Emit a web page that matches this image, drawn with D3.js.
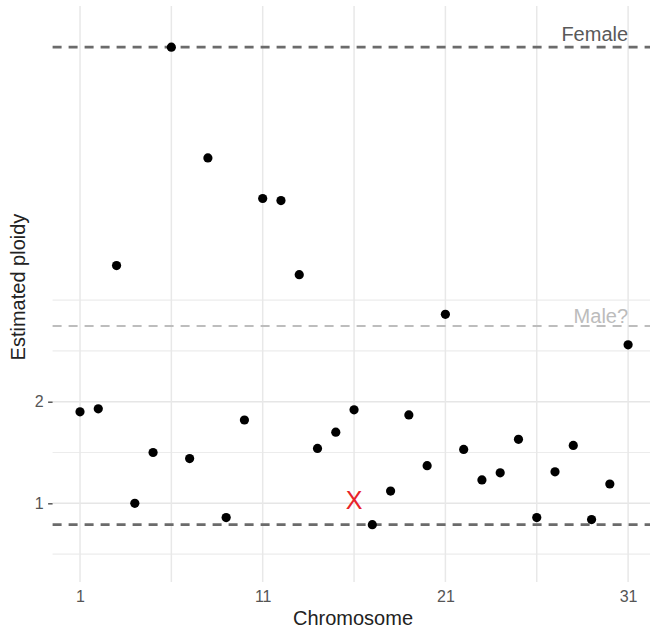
<!DOCTYPE html>
<html>
<head>
<meta charset="utf-8">
<script src="https://cdn.jsdelivr.net/npm/d3@7"></script>
<style>
  body { margin: 0; background: #fff; }
  svg { display: block; font-family: 'Liberation Sans', Arial, sans-serif; }
</style>
</head>
<body>
<svg id="chart"></svg>
<script>
// data
const chromosomes = [1, 2, 3, 4, 5, 6, 7, 8, 9, 10, 11, 12, 13, 14, 15, 16, 17, 18, 19, 20, 21, 22, 23, 24, 25, 26, 27, 28, 29, 30, 31];
const ploidy = [1.90, 1.93, 3.34, 1.00, 1.50, 5.49, 1.44, 4.40, 0.86, 1.82, 4.00, 3.98, 3.25, 1.54, 1.70, 1.92, 0.79, 1.12, 1.87, 1.37, 2.86, 1.53, 1.23, 1.30, 1.63, 0.86, 1.31, 1.57, 0.84, 1.19, 2.56];
const xBreaks = [1, 11, 21, 31];
const xMinorBreaks = [6, 16, 26];
const yBreaks = [1, 2];
const yMinorBreaks = [0.5, 1.5, 2.5, 3];
const refNames = ['Female', 'Male?', 'Low'];
const refValues = [5.49, 2.745, 0.79];
const labelTexts = ['Female', 'Male?'];
const labelX = [31, 31];
const labelY = [5.55, 2.77];
const flagX = [16];
const flagY = [1.03];

const width = 650;
const height = 632;
const panel = { left: 52.6, right: 655.5, top: 6, bottom: 582 };

const svg = d3.select('#chart').attr('width', width).attr('height', height);

// scales
const xScale = d3.scaleLinear().domain([-0.5, 32.5]).range([panel.left, panel.right]);
const yScale = d3.scaleLinear().domain([0.2254, 5.895]).range([panel.bottom, panel.top]);

// grid
const grid = svg.append('g').attr('class', 'grid');
grid
  .selectAll('.hminor')
  .data(yMinorBreaks)
  .join('line')
  .attr('x1', panel.left)
  .attr('x2', panel.right)
  .attr('y1', (d) => yScale(d))
  .attr('y2', (d) => yScale(d))
  .attr('stroke', '#ececec')
  .attr('stroke-width', 1.2);
grid
  .selectAll('.hmajor')
  .data(yBreaks)
  .join('line')
  .attr('x1', panel.left)
  .attr('x2', panel.right)
  .attr('y1', (d) => yScale(d))
  .attr('y2', (d) => yScale(d))
  .attr('stroke', '#e6e6e6')
  .attr('stroke-width', 1.6);
grid
  .selectAll('.vgrid')
  .data(xBreaks.concat(xMinorBreaks))
  .join('line')
  .attr('x1', (d) => xScale(d))
  .attr('x2', (d) => xScale(d))
  .attr('y1', panel.top)
  .attr('y2', panel.bottom)
  .attr('stroke', '#e8e8e8')
  .attr('stroke-width', 1.5);

// reference lines
svg
  .append('g')
  .selectAll('line')
  .data(refValues)
  .join('line')
  .attr('x1', panel.left)
  .attr('x2', panel.right)
  .attr('y1', (d) => yScale(d))
  .attr('y2', (d) => yScale(d))
  .attr('stroke', (d, i) => (refNames[i] === 'Male?' ? '#bdbdbd' : '#6b6b6b'))
  .attr('stroke-width', (d, i) => (refNames[i] === 'Male?' ? 2 : 2.6))
  .attr('stroke-dasharray', '9,7');

svg
  .append('g')
  .selectAll('text')
  .data(labelTexts)
  .join('text')
  .attr('x', (d, i) => xScale(labelX[i]))
  .attr('y', (d, i) => yScale(labelY[i]))
  .attr('text-anchor', 'end')
  .attr('font-size', 20)
  .attr('fill', (d) => (d === 'Male?' ? '#bcbcbc' : '#595959'))
  .text((d) => d);

// points
svg
  .append('g')
  .selectAll('circle')
  .data(ploidy)
  .join('circle')
  .attr('cx', (d, i) => xScale(chromosomes[i]))
  .attr('cy', (d) => yScale(d))
  .attr('r', 4.6)
  .attr('fill', '#000');

// red cross
svg
  .append('g')
  .selectAll('text')
  .data(flagY)
  .join('text')
  .attr('x', (d, i) => xScale(flagX[i]))
  .attr('y', (d) => yScale(d))
  .attr('dy', '0.36em')
  .attr('text-anchor', 'middle')
  .attr('font-size', 25)
  .attr('fill', '#e8232a')
  .text('X');

// axes
const xAxis = d3.axisBottom(xScale).tickValues(xBreaks).tickSize(0).tickPadding(9);
svg
  .append('g')
  .attr('transform', `translate(0,${panel.bottom})`)
  .call(xAxis)
  .call((g) => g.select('.domain').remove())
  .call((g) => g.selectAll('text').attr('font-size', 16).attr('fill', '#555').attr('font-family', null));

const yAxis = d3.axisLeft(yScale).tickValues(yBreaks).tickFormat(d3.format('d')).tickSize(4.5).tickPadding(4.5);
svg
  .append('g')
  .attr('transform', `translate(${panel.left},0)`)
  .call(yAxis)
  .call((g) => g.select('.domain').remove())
  .call((g) => g.selectAll('line').attr('stroke', '#555').attr('stroke-width', 1.5))
  .call((g) => g.selectAll('text').attr('font-size', 16).attr('fill', '#555').attr('font-family', null));

// axis titles
svg
  .append('text')
  .attr('x', 353)
  .attr('y', 625)
  .attr('text-anchor', 'middle')
  .attr('font-size', 20)
  .attr('fill', '#222')
  .text('Chromosome');

svg
  .append('text')
  .attr('transform', 'translate(25,287) rotate(-90)')
  .attr('text-anchor', 'middle')
  .attr('font-size', 20)
  .attr('fill', '#222')
  .text('Estimated ploidy');
</script>
</body>
</html>
